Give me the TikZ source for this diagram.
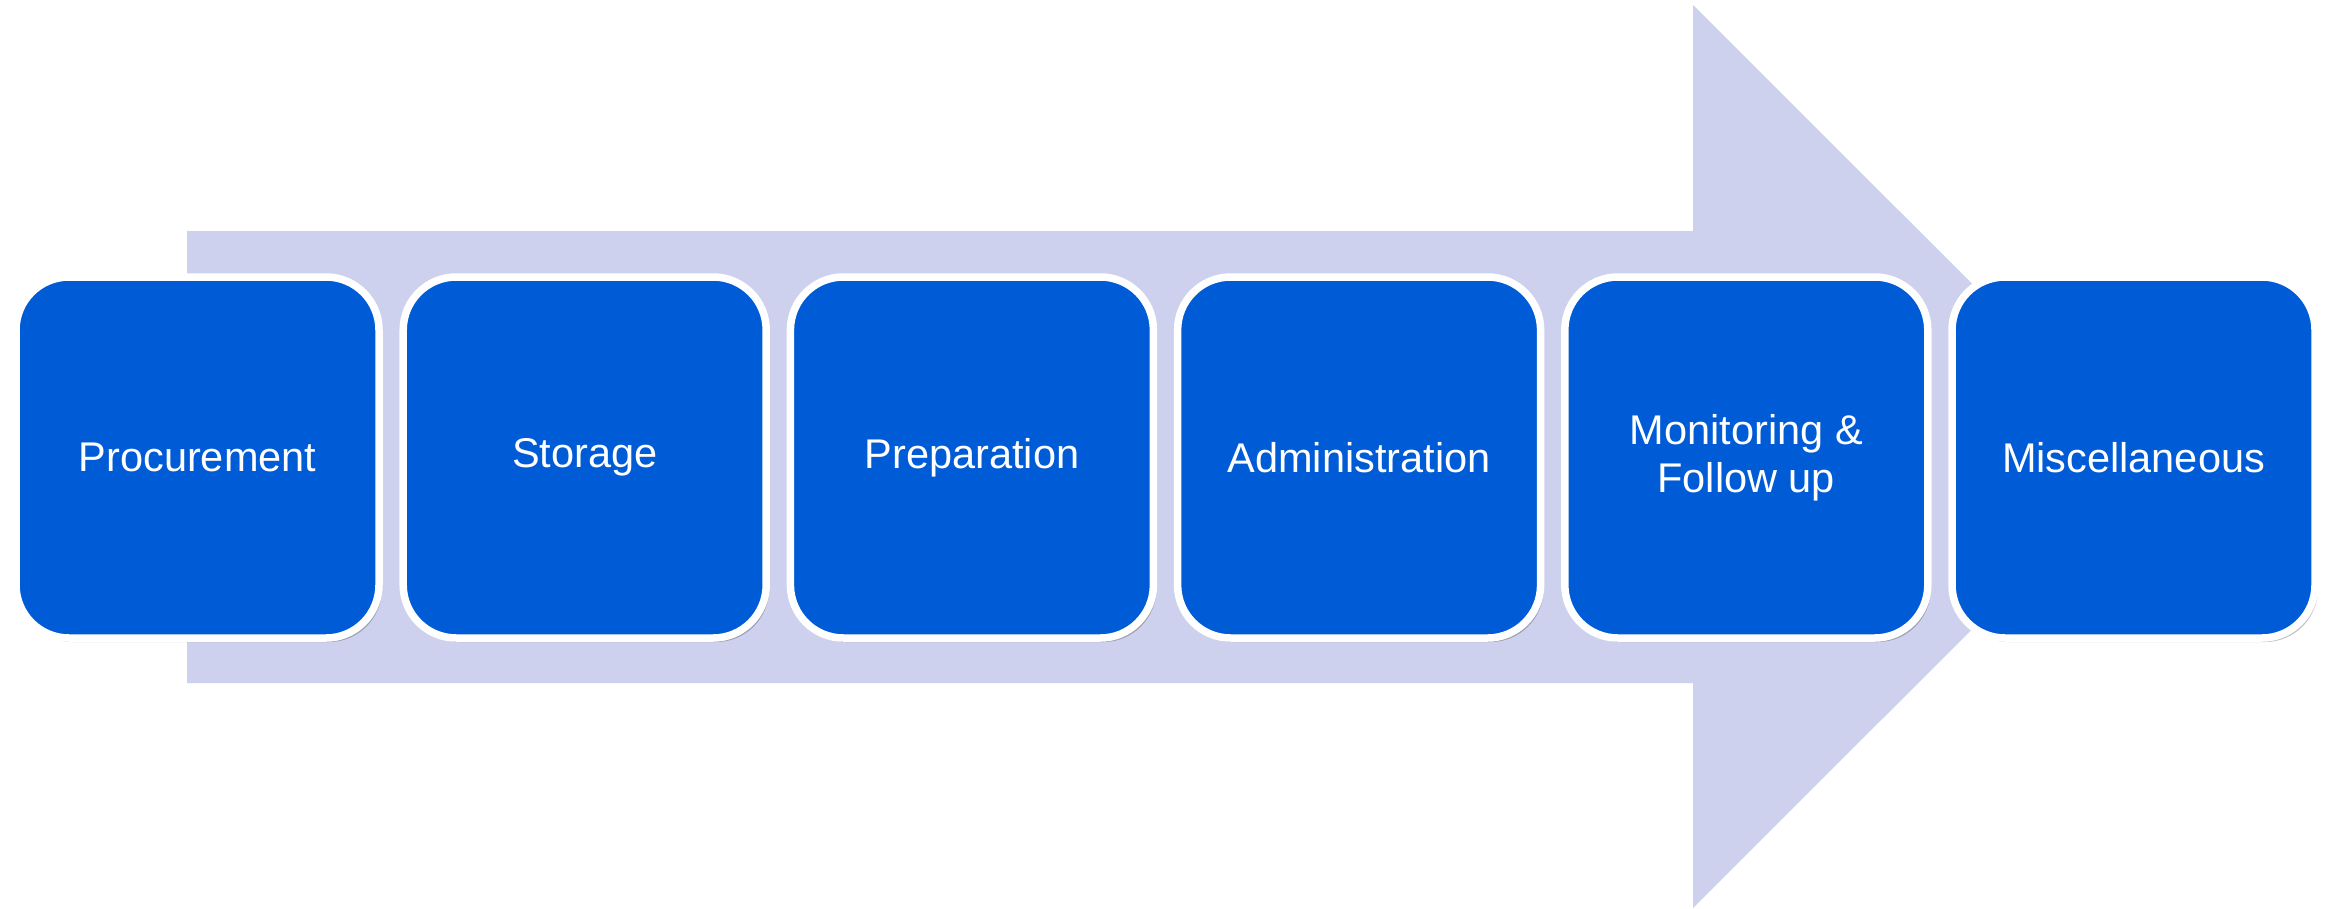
\documentclass[tikz,border=0pt]{standalone}
\usepackage{fontspec}
\setmainfont{Liberation Sans}
\usetikzlibrary{shadows}
\definecolor{boxblue}{RGB}{0,92,214}
\definecolor{arrowlav}{RGB}{205,209,238}
\tikzset{
  stepbox/.style={draw=white, line width=7.5pt, fill=boxblue, rounded corners=53pt,
    minimum width=363pt, minimum height=361pt, inner sep=0pt, text=white, align=center,
    font=\fontsize{41.5}{48}\selectfont,
    drop shadow={shadow xshift=3pt, shadow yshift=-4pt, fill=black, opacity=0.25}},
}
\begin{document}
\begin{tikzpicture}[x=1pt,y=-1pt]
\useasboundingbox (0,0) rectangle (2341,908);
\fill[white] (0,0) rectangle (2341,908);
\fill[arrowlav] (187,231) -- (1693,231) -- (1693,5) -- (2145,456.5) -- (1693,908) -- (1693,683) -- (187,683) -- cycle;
\node[stepbox] (b1) at (197.5,457.5) {Procurement};
\node[stepbox] (b2) at (584.7,457.5) {Storage};
\node[stepbox] (b3) at (971.9,457.5) {Preparation};
\node[stepbox] (b4) at (1359.1,457.5) {Administration};
\node[stepbox] (b5) at (1746.3,457.5) {Monitoring \&\\Follow up};
\node[stepbox] (b6) at (2133.5,457.5) {Miscellaneous};
\end{tikzpicture}
\end{document}
